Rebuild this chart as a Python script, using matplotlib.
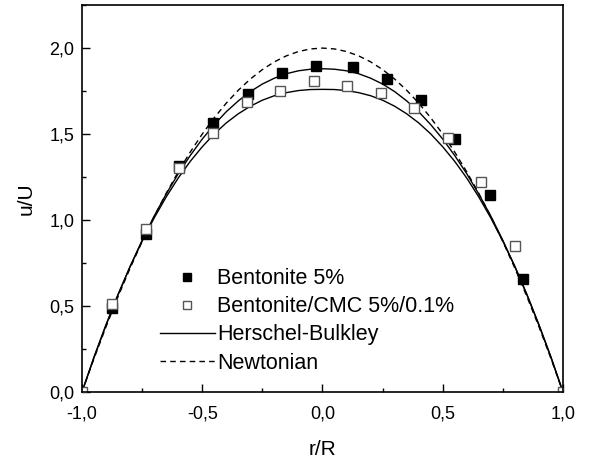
import matplotlib.pyplot as plt
from matplotlib.ticker import MultipleLocator, FuncFormatter

plt.rcParams['font.family'] = ['Liberation Sans', 'DejaVu Sans']

# measured points
r_bent = [-0.877, -0.735, -0.597, -0.454, -0.311, -0.170, -0.027, 0.125, 0.267, 0.408, 0.552, 0.697, 0.832]
u_bent = [0.49, 0.92, 1.316, 1.562, 1.733, 1.857, 1.895, 1.891, 1.823, 1.698, 1.469, 1.145, 0.657]

r_cmc = [-1.0, -0.877, -0.735, -0.597, -0.454, -0.315, -0.177, -0.035, 0.101, 0.242, 0.382, 0.52, 0.659, 0.80, 1.0]
u_cmc = [0.0, 0.51, 0.946, 1.30, 1.508, 1.688, 1.752, 1.808, 1.779, 1.74, 1.653, 1.478, 1.223, 0.85, 0.0]

# model curves (read at r = 0, 0.05, ..., 1; mirrored for r < 0)
r_half = [0.0, 0.05, 0.1, 0.15, 0.2, 0.25, 0.3, 0.35, 0.4, 0.45, 0.5,
          0.55, 0.6, 0.65, 0.7, 0.75, 0.8, 0.85, 0.9, 0.95, 1.0]
hb_bent_half = [1.88, 1.877, 1.868, 1.851, 1.825, 1.791, 1.747, 1.693, 1.630, 1.555, 1.471,
                1.375, 1.269, 1.151, 1.023, 0.882, 0.729, 0.565, 0.389, 0.201, 0.0]
hb_cmc_half = [1.76, 1.759, 1.753, 1.741, 1.723, 1.697, 1.662, 1.618, 1.565, 1.501, 1.426,
               1.341, 1.244, 1.134, 1.012, 0.877, 0.730, 0.568, 0.392, 0.204, 0.0]
newt_half = [2.0, 1.995, 1.98, 1.955, 1.92, 1.875, 1.82, 1.755, 1.68, 1.595, 1.5,
             1.395, 1.28, 1.155, 1.02, 0.875, 0.72, 0.555, 0.38, 0.195, 0.0]

r_full = [-v for v in r_half[:0:-1]] + r_half
hb_bent = hb_bent_half[:0:-1] + hb_bent_half
hb_cmc = hb_cmc_half[:0:-1] + hb_cmc_half
newt = newt_half[:0:-1] + newt_half

fig = plt.figure(figsize=(6.06, 4.63), dpi=100)
ax = fig.add_axes([0.1353, 0.1533, 0.7937, 0.8357])

ax.plot(r_full, newt, '--', color='black', lw=1.0, dashes=(4, 3), label='Newtonian')
ax.plot(r_full, hb_bent, '-', color='black', lw=1.0, label='Herschel-Bulkley')
ax.plot(r_full, hb_cmc, '-', color='black', lw=1.0)
ax.plot(r_bent, u_bent, 's', color='black', ms=7.5, ls='none', label='Bentonite 5%')
ax.plot(r_cmc, u_cmc, 's', mfc='white', mec='#555555', mew=1.0, ms=7.5, ls='none',
        label='Bentonite/CMC 5%/0.1%')

ax.set_xlim(-1, 1)
ax.set_ylim(0, 2.25)
ax.xaxis.set_major_locator(MultipleLocator(0.5))
ax.xaxis.set_minor_locator(MultipleLocator(0.25))
ax.yaxis.set_major_locator(MultipleLocator(0.5))
ax.yaxis.set_minor_locator(MultipleLocator(0.25))
fmt = FuncFormatter(lambda v, p: f'{v:.1f}'.replace('.', ',').replace('-0,0', '0,0'))
ax.xaxis.set_major_formatter(fmt)
ax.yaxis.set_major_formatter(fmt)
ax.tick_params(which='both', direction='in', labelsize=13, width=1.0)
ax.tick_params(which='major', length=6)
ax.tick_params(which='minor', length=3)
ax.tick_params(axis='x', pad=10)
ax.tick_params(axis='y', pad=5.5)
for s in ax.spines.values():
    s.set_linewidth(1.2)

ax.set_xlabel('r/R', fontsize=15, labelpad=12)
ax.set_ylabel('u/U', fontsize=15, labelpad=10)

h, l = ax.get_legend_handles_labels()
order = [2, 3, 1, 0]
ax.legend([h[i] for i in order], [l[i] for i in order], loc='upper left',
          bbox_to_anchor=(0.162, 0.32), frameon=False, fontsize=15.5, numpoints=1,
          handlelength=2.55, handletextpad=0.12, labelspacing=0.33,
          borderpad=0, borderaxespad=0, markerscale=0.8)

fig.savefig('out.png', dpi=100)
